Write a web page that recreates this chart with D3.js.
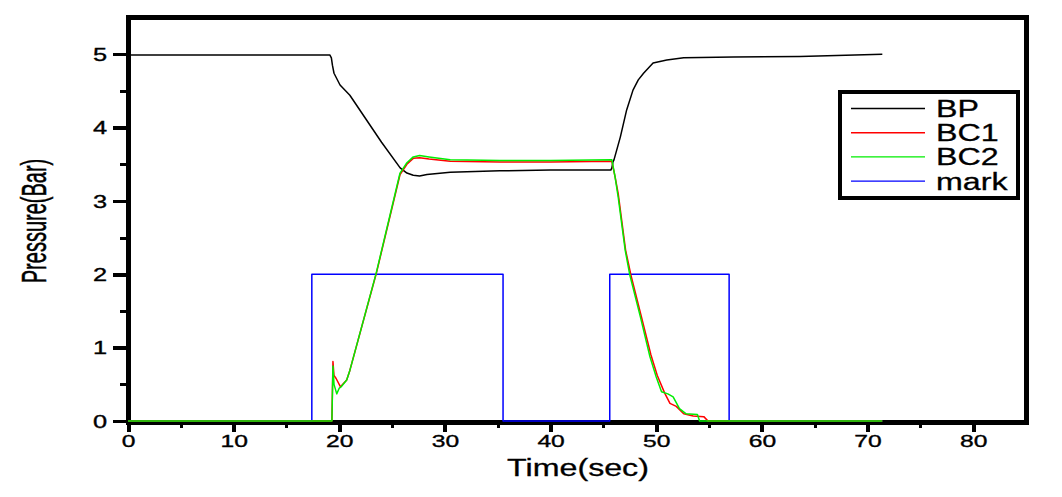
<!DOCTYPE html>
<html><head><meta charset="utf-8">
<script src="https://cdn.jsdelivr.net/npm/d3@7"></script>
<style>
html,body{margin:0;padding:0;background:#fff;}
svg{display:block;font-family:"Liberation Sans",Arial,sans-serif;}
</style></head>
<body>
<svg id="c" width="1062" height="497"></svg>
<script>
// ---- data (time in sec, pressure in bar) ----
const bpT = [0, 10, 19.1, 19.25, 19.35, 19.5, 20.07, 21.0, 22.5, 24.0, 25.76, 26.4, 27.0, 27.6, 28.3, 30.5, 35.2, 40, 45.7, 45.8, 45.9, 46.0, 46.6, 47.2, 47.8, 48.3, 48.8, 49.7, 51.0, 52.6, 57.3, 63.6, 71.4];
const bpV = [4.99, 4.99, 4.99, 4.95, 4.85, 4.74, 4.58, 4.44, 4.12, 3.8, 3.45, 3.38, 3.35, 3.34, 3.36, 3.39, 3.41, 3.42, 3.42, 3.45, 3.53, 3.56, 3.87, 4.24, 4.51, 4.65, 4.74, 4.88, 4.92, 4.95, 4.96, 4.97, 5.0];

const bc1T = [0, 19.3, 19.4, 19.5, 19.7, 20.1, 20.2, 20.7, 21.0, 23.5, 25.75, 26.4, 27.0, 27.6, 28.5, 30.5, 35.2, 40, 45.8, 46.1, 46.4, 47.1, 47.6, 48.6, 49.5, 50.1, 50.8, 51.3, 51.9, 52.6, 53.5, 54.5, 54.9, 71.4];
const bc1V = [0, 0, 0.81, 0.62, 0.58, 0.47, 0.48, 0.56, 0.69, 2.01, 3.36, 3.5, 3.58, 3.59, 3.57, 3.54, 3.53, 3.53, 3.54, 3.33, 3.1, 2.33, 1.99, 1.42, 0.9, 0.62, 0.38, 0.24, 0.2, 0.1, 0.07, 0.06, 0, 0];

const bc2T = [0, 19.3, 19.4, 19.5, 19.76, 20.0, 20.2, 20.7, 21.0, 23.5, 25.75, 26.4, 27.0, 27.6, 28.5, 30.5, 35.2, 40, 45.8, 46.1, 46.4, 47.06, 47.5, 48.5, 49.4, 50.0, 50.5, 51.1, 51.6, 52.2, 52.8, 53.9, 54.1, 71.4];
const bc2V = [0, 0, 0.75, 0.5, 0.37, 0.45, 0.47, 0.56, 0.69, 2.02, 3.38, 3.52, 3.6, 3.62, 3.6, 3.56, 3.55, 3.55, 3.56, 3.33, 3.05, 2.33, 1.99, 1.42, 0.88, 0.6, 0.4, 0.37, 0.33, 0.17, 0.1, 0.09, 0, 0];

const markT = [0, 17.4, 17.4, 35.5, 35.5, 45.6, 45.6, 56.9, 56.9, 71.4];
const markV = [0, 0, 2, 2, 0, 0, 2, 2, 0, 0];

const seriesNames = ["BP", "BC1", "BC2", "mark"];
const seriesColors = ["#000000", "#ff0000", "#00ee00", "#0000ff"];
const xTicks = [0, 10, 20, 30, 40, 50, 60, 70, 80];
const yTicks = [0, 1, 2, 3, 4, 5];
const xLabel = "Time(sec)";
const yLabel = "Pressure(Bar)";

// ---- layout ----
const SX = 1.45; // horizontal stretch of text in the original
const svg = d3.select("#c");
const x = d3.scaleLinear().domain([0, 85]).range([128, 1026]);
const y = d3.scaleLinear().domain([-0.02, 5.5]).range([422.5, 17.5]);
const yBase = 422;

// frame (drawn first, thick black)
const fr = svg.append("g").attr("stroke", "#000").attr("stroke-width", 5)
  .attr("fill", "none").attr("shape-rendering", "crispEdges");
fr.append("path").attr("d", d3.line()([[128, 17], [1026, 17], [1026, yBase], [128, yBase], [128, 17]]))
  .attr("stroke-linecap", "square").attr("stroke-linejoin", "miter");

// data lines
const line = d3.line().x(d => x(d[0])).y(d => y(d[1]));
const zip = (t, v) => t.map((d, i) => [d, v[i]]);
const data = {
  BP: zip(bpT, bpV), BC1: zip(bc1T, bc1V), BC2: zip(bc2T, bc2V), mark: zip(markT, markV)
};
const order = ["mark", "BP", "BC1", "BC2"];
order.forEach(n => {
  svg.append("path").datum(data[n]).attr("d", line)
    .attr("fill", "none").attr("stroke", seriesColors[seriesNames.indexOf(n)])
    .attr("stroke-width", 1.5).attr("stroke-linejoin", "round");
});

// x axis (major + minor)
const xMinor = d3.range(5, 85, 10);
const gx = svg.append("g").attr("transform", `translate(0,${yBase})`);
gx.call(d3.axisBottom(x).tickValues(xMinor).tickSize(6).tickFormat(""))
  .call(g => g.select(".domain").remove());
gx.selectAll("line").attr("stroke", "#000").attr("stroke-width", 3).attr("shape-rendering", "crispEdges");
const gx2 = svg.append("g").attr("transform", `translate(0,${yBase})`);
gx2.call(d3.axisBottom(x).tickValues(xTicks).tickSize(9.5).tickFormat(d3.format("d")))
  .call(g => g.select(".domain").remove());
gx2.selectAll("line").attr("stroke", "#000").attr("stroke-width", 4).attr("shape-rendering", "crispEdges");
gx2.selectAll("text").attr("font-size", 17).attr("fill", "#000")
  .attr("stroke", "#000").attr("stroke-width", 0.35)
  .attr("font-family", "Liberation Sans, Arial, sans-serif")
  .attr("dy", null).attr("y", 25).attr("transform", `scale(${SX},1)`);

// y axis
const yMinor = d3.range(0.5, 5.5, 1);
const gy = svg.append("g").attr("transform", `translate(128,0)`);
gy.call(d3.axisLeft(y).tickValues(yMinor).tickSize(8.5).tickFormat(""))
  .call(g => g.select(".domain").remove());
gy.selectAll("line").attr("stroke", "#000").attr("stroke-width", 3).attr("shape-rendering", "crispEdges");
const gy2 = svg.append("g").attr("transform", `translate(128,0)`);
gy2.call(d3.axisLeft(y).tickValues(yTicks).tickSize(15).tickFormat(d3.format("d")))
  .call(g => g.select(".domain").remove());
gy2.selectAll("line").attr("stroke", "#000").attr("stroke-width", 3.5).attr("shape-rendering", "crispEdges");
gy2.selectAll("text").attr("font-size", 17.5).attr("fill", "#000")
  .attr("stroke", "#000").attr("stroke-width", 0.35)
  .attr("font-family", "Liberation Sans, Arial, sans-serif")
  .attr("x", -21 / SX).attr("dy", "0.36em").attr("transform", `scale(${SX},1)`);

// axis titles
svg.append("text").attr("transform", `translate(578,476) scale(1.4,1)`)
  .attr("text-anchor", "middle").attr("font-size", 23)
  .attr("stroke", "#000").attr("stroke-width", 0.3).text(xLabel);
svg.append("text").attr("transform", `translate(46,221) scale(1.75,1) rotate(-90)`)
  .attr("text-anchor", "middle").attr("font-size", 20)
  .attr("stroke", "#000").attr("stroke-width", 0.3).text(yLabel);

// legend
const lg = svg.append("g");
lg.append("rect").attr("x", 840).attr("y", 92).attr("width", 178).attr("height", 106)
  .attr("fill", "#fff").attr("stroke", "#000").attr("stroke-width", 3.5)
  .attr("shape-rendering", "crispEdges");
seriesNames.forEach((n, i) => {
  const yy = 108.5 + i * 24.2;
  lg.append("line").attr("x1", 851).attr("x2", 925).attr("y1", yy).attr("y2", yy)
    .attr("stroke", seriesColors[i]).attr("stroke-width", 1.4);
  lg.append("text").attr("transform", `translate(936,${yy + 8.5}) scale(1.4,1)`)
    .attr("font-size", 23).attr("stroke", "#000").attr("stroke-width", 0.3).text(n);
});
</script>
</body></html>
